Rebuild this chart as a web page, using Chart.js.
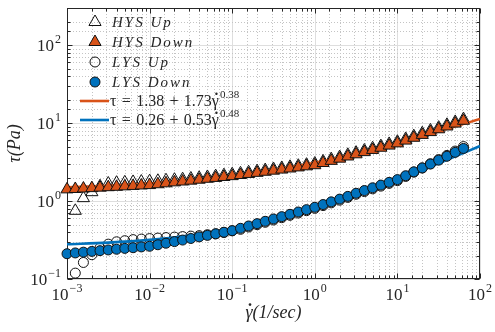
<!DOCTYPE html>
<html lang="en">
<head>
<meta charset="UTF-8">
<title>Flow curves</title>
<script src="https://cdn.jsdelivr.net/npm/chart.js"></script>
<style>
  html, body { margin: 0; padding: 0; background: #fff; }
</style>
</head>
<body>
<canvas id="myChart" width="495" height="332"></canvas>
<script>
// shear rate (1/s), 10 points per decade
const shearRate = [
  0.001, 0.00126, 0.00158, 0.002, 0.00251, 0.00316, 0.00398, 0.00501, 0.00631, 0.00794,
  0.01, 0.0126, 0.0158, 0.02, 0.0251, 0.0316, 0.0398, 0.0501, 0.0631, 0.0794,
  0.1, 0.126, 0.158, 0.2, 0.251, 0.316, 0.398, 0.501, 0.631, 0.794,
  1, 1.26, 1.58, 2, 2.51, 3.16, 3.98, 5.01, 6.31, 7.94,
  10, 12.6, 15.8, 20, 25.1, 31.6, 39.8, 50.1, 63.1
];

const hysUp = [
  null, 0.75, 1.09, 1.30, 1.55, 1.68, 1.72, 1.74, 1.76, 1.78,
  1.80, 1.82, 1.85, 1.88, 1.91, 1.95, 1.99, 2.04, 2.09, 2.15,
  2.21, 2.27, 2.34, 2.42, 2.50, 2.58, 2.66, 2.75, 2.84, 2.93,
  3.03, 3.23, 3.45, 3.67, 3.92, 4.18, 4.46, 4.76, 5.07, 5.41,
  5.77, 6.27, 6.81, 7.42, 8.06, 8.75, 9.51, 10.36, 11.26
];
const hysDown = [
  1.413, 1.429, 1.449, 1.466, 1.486, 1.507, 1.524, 1.545, 1.563, 1.585,
  1.603, 1.644, 1.690, 1.738, 1.782, 1.828, 1.879, 1.932, 1.982, 2.037,
  2.089, 2.158, 2.228, 2.301, 2.377, 2.455, 2.535, 2.618, 2.704, 2.793,
  2.884, 3.076, 3.281, 3.499, 3.733, 3.981, 4.246, 4.529, 4.831, 5.152,
  5.495, 5.970, 6.486, 7.063, 7.674, 8.337, 9.057, 9.863, 10.72
];
const lysUp = [
  null, 0.119, 0.163, 0.205, 0.25, 0.28, 0.30, 0.31, 0.32, 0.325,
  0.33, 0.335, 0.34, 0.345, 0.35, 0.355, 0.36, 0.37, 0.38, 0.395,
  0.415, 0.434, 0.465, 0.498, 0.534, 0.571, 0.612, 0.656, 0.702, 0.753,
  0.807, 0.875, 0.948, 1.027, 1.114, 1.221, 1.324, 1.435, 1.555, 1.686,
  1.83, 2.07, 2.35, 2.66, 3.01, 3.40, 3.85, 4.38, 5.0
];
const lysDown = [
  0.211, 0.216, 0.221, 0.226, 0.231, 0.236, 0.241, 0.247, 0.252, 0.258,
  0.263, 0.275, 0.288, 0.302, 0.316, 0.331, 0.347, 0.363, 0.380, 0.398,
  0.417, 0.447, 0.479, 0.513, 0.550, 0.589, 0.631, 0.676, 0.724, 0.776,
  0.832, 0.902, 0.977, 1.059, 1.148, 1.259, 1.365, 1.479, 1.603, 1.738,
  1.884, 2.113, 2.371, 2.661, 2.985, 3.350, 3.758, 4.217, 4.732
];

// fitted curves, read at half decades
const fitRate = [0.001, 0.00316, 0.01, 0.0316, 0.1, 0.316, 1, 3.16, 10, 31.6, 100];
const hysFit = [1.505, 1.574, 1.681, 1.846, 2.101, 2.497, 3.11, 4.059, 5.53, 7.808, 11.33];
const lysFit = [0.279, 0.293, 0.318, 0.361, 0.436, 0.565, 0.79, 1.181, 1.861, 3.041, 5.09];

const ORANGE = '#D95319';
const BLUE = '#0072BD';
const INK = '#262626';
const SERIF = "'Liberation Serif', 'DejaVu Serif', serif";
const TRI_R = 7;
const CIRC_R = 5;

function pts(xs, ys) {
  const out = [];
  xs.forEach((x, i) => { if (ys[i] != null) out.push({ x: x, y: ys[i] }); });
  return out;
}

function markerSet(label, ys, style, fill, order) {
  return {
    label, data: pts(shearRate, ys), pointStyle: style,
    pointRadius: style === 'triangle' ? TRI_R : CIRC_R,
    backgroundColor: fill, borderColor: '#111', borderWidth: 1,
    showLine: false, clip: false, order,
    legend: { kind: style, fill }
  };
}

function fitSet(label, expo, ys, color) {
  return {
    label, data: pts(fitRate, ys), showLine: true, pointRadius: 0,
    borderColor: color, borderWidth: 2.6, cubicInterpolationMode: 'monotone',
    order: 3, legend: { kind: 'line', color, expo }
  };
}

const datasets = [
  markerSet('HYS Up', hysUp, 'triangle', 'rgba(255,255,255,0)', 5),
  markerSet('HYS Down', hysDown, 'triangle', ORANGE, 2),
  markerSet('LYS Up', lysUp, 'circle', 'rgba(255,255,255,0)', 4),
  markerSet('LYS Down', lysDown, 'circle', BLUE, 1),
  fitSet('τ = 1.38 + 1.73γ̇', '0.38', hysFit, ORANGE),
  fitSet('τ = 0.26 + 0.53γ̇', '0.48', lysFit, BLUE)
];

function isDecade(v) {
  const l = Math.log10(v);
  return Math.abs(l - Math.round(l)) < 1e-9;
}

function drawPow(ctx, e, x, y, align) {
  const sup = e < 0 ? '\u2212' + (-e) : String(e);
  ctx.font = '17px ' + SERIF;
  const wb = ctx.measureText('10').width;
  ctx.font = '12px ' + SERIF;
  const ws = ctx.measureText(sup).width;
  const total = wb + 1 + ws;
  const x0 = align === 'right' ? x - total : x - total / 2;
  ctx.textAlign = 'left';
  ctx.textBaseline = 'alphabetic';
  ctx.font = '17px ' + SERIF;
  ctx.fillText('10', x0, y);
  ctx.font = '12px ' + SERIF;
  ctx.fillText(sup, x0 + wb + 1, y - 8);
}

// text with a "γ̇": draw γ and put the dot above it by hand; returns width
function drawGammaDot(ctx, text, x, y, dotFont) {
  const [pre, post] = text.split('γ̇');
  const wPre = ctx.measureText(pre).width;
  const wG = ctx.measureText('γ').width;
  ctx.fillText(pre + 'γ' + (post || ''), x, y);
  const font = ctx.font;
  ctx.font = dotFont;
  ctx.textAlign = 'center';
  ctx.fillText('\u02D9', x + wPre + wG / 2 + 1, y - 2);
  ctx.textAlign = 'left';
  ctx.font = font;
  return ctx.measureText(pre + 'γ' + (post || '')).width;
}

// MATLAB-like frame: grid, box, inward ticks, power-of-ten labels, x title
const frame = {
  id: 'frame',
  beforeDatasetsDraw(chart) {
    const { ctx, chartArea: a, scales: { x, y } } = chart;
    ctx.save();
    ctx.lineWidth = 1;
    const line = (x1, y1, x2, y2) => {
      ctx.beginPath(); ctx.moveTo(x1, y1); ctx.lineTo(x2, y2); ctx.stroke();
    };
    x.ticks.forEach(t => {
      const px = Math.round(x.getPixelForValue(t.value)) + 0.5;
      if (isDecade(t.value)) { ctx.setLineDash([]); ctx.strokeStyle = '#dedede'; }
      else { ctx.setLineDash([1, 2]); ctx.strokeStyle = '#c4c4c4'; }
      line(px, a.top, px, a.bottom);
    });
    y.ticks.forEach(t => {
      const py = Math.round(y.getPixelForValue(t.value)) + 0.5;
      if (isDecade(t.value)) { ctx.setLineDash([]); ctx.strokeStyle = '#dedede'; }
      else { ctx.setLineDash([1, 2]); ctx.strokeStyle = '#c4c4c4'; }
      line(a.left, py, a.right, py);
    });
    ctx.setLineDash([]);
    ctx.strokeStyle = INK;
    const L = Math.round(a.left) + 0.5, R = Math.round(a.right) - 0.5;
    const T = Math.round(a.top) + 0.5, B = Math.round(a.bottom) - 0.5;
    ctx.strokeRect(L, T, R - L, B - T);
    x.ticks.forEach(t => {
      const px = Math.round(x.getPixelForValue(t.value)) + 0.5;
      const len = isDecade(t.value) ? 5 : 3;
      line(px, B, px, B - len);
      line(px, T, px, T + len);
    });
    y.ticks.forEach(t => {
      const py = Math.round(y.getPixelForValue(t.value)) + 0.5;
      const len = isDecade(t.value) ? 5 : 3;
      line(L, py, L + len, py);
      line(R, py, R - len, py);
    });
    ctx.fillStyle = INK;
    x.ticks.forEach(t => {
      if (!isDecade(t.value)) return;
      drawPow(ctx, Math.round(Math.log10(t.value)), x.getPixelForValue(t.value), a.bottom + 21, 'center');
    });
    y.ticks.forEach(t => {
      if (!isDecade(t.value)) return;
      drawPow(ctx, Math.round(Math.log10(t.value)), a.left - 6, y.getPixelForValue(t.value) + 6, 'right');
    });
    // x axis title
    ctx.font = 'italic 18px ' + SERIF;
    ctx.textAlign = 'left';
    ctx.textBaseline = 'alphabetic';
    const xt = 'γ̇(1/sec)';
    const w = ctx.measureText(xt.replace('\u0307', '')).width;
    drawGammaDot(ctx, xt, (a.left + a.right) / 2 - w / 2, 318, 'bold 18px ' + SERIF);
    ctx.restore();
  }
};

// legend inside the axes, no box
const legendBox = {
  id: 'legendBox',
  afterDraw(chart) {
    const { ctx } = chart;
    ctx.save();
    let yy = 22;
    chart.data.datasets.forEach(ds => {
      const lg = ds.legend;
      const mx = 95;
      ctx.lineWidth = 1;
      ctx.strokeStyle = '#111';
      if (lg.kind === 'triangle') {
        const r = TRI_R;
        ctx.beginPath();
        ctx.moveTo(mx, yy - r);
        ctx.lineTo(mx + 0.866 * r, yy + 0.5 * r);
        ctx.lineTo(mx - 0.866 * r, yy + 0.5 * r);
        ctx.closePath();
        ctx.fillStyle = lg.fill; ctx.fill(); ctx.stroke();
      } else if (lg.kind === 'circle') {
        ctx.beginPath();
        ctx.arc(mx, yy, CIRC_R, 0, Math.PI * 2);
        ctx.fillStyle = lg.fill; ctx.fill(); ctx.stroke();
      } else {
        ctx.lineWidth = 2.6;
        ctx.strokeStyle = lg.color;
        ctx.beginPath(); ctx.moveTo(80, yy); ctx.lineTo(109, yy); ctx.stroke();
      }
      ctx.fillStyle = INK;
      ctx.textAlign = 'left';
      ctx.textBaseline = 'alphabetic';
      if (lg.kind === 'line') {
        ctx.font = '16px ' + SERIF;
        const txt = ds.label.replace(/ /g, ' \u200A');
        const w = drawGammaDot(ctx, txt, 110, yy + 5, 'bold 16px ' + SERIF);
        ctx.font = '11px ' + SERIF;
        ctx.fillText(lg.expo, 110 + w + 1, yy - 3);
      } else {
        ctx.font = 'italic 15px ' + SERIF;
        ctx.letterSpacing = '2px';
        ctx.fillText(ds.label, 112, yy + 5);
        ctx.letterSpacing = '0px';
      }
      yy += (lg.kind === 'line' || ds.label === 'LYS Down') ? 19 : 20;
    });
    ctx.restore();
  }
};

const titleFont = { family: SERIF, size: 18, style: 'italic' };

new Chart(document.getElementById('myChart'), {
  type: 'scatter',
  data: { datasets },
  options: {
    responsive: false,
    animation: false,
    layout: { padding: { top: 2, right: 15, bottom: 0, left: 0 } },
    plugins: { legend: { display: false }, tooltip: { enabled: false } },
    scales: {
      x: {
        type: 'logarithmic', min: 0.001, max: 100,
        grid: { display: false }, border: { display: false },
        ticks: { display: false },
        afterFit(s) { s.height = 53; }
      },
      y: {
        type: 'logarithmic', min: 0.1, max: 300,
        grid: { display: false }, border: { display: false },
        ticks: { display: false },
        title: { display: true, text: 'τ(Pa)', color: INK, font: titleFont, padding: { top: 4, bottom: 4 } },
        afterFit(s) { s.width = 67; }
      }
    }
  },
  plugins: [frame, legendBox]
});
</script>
</body>
</html>
